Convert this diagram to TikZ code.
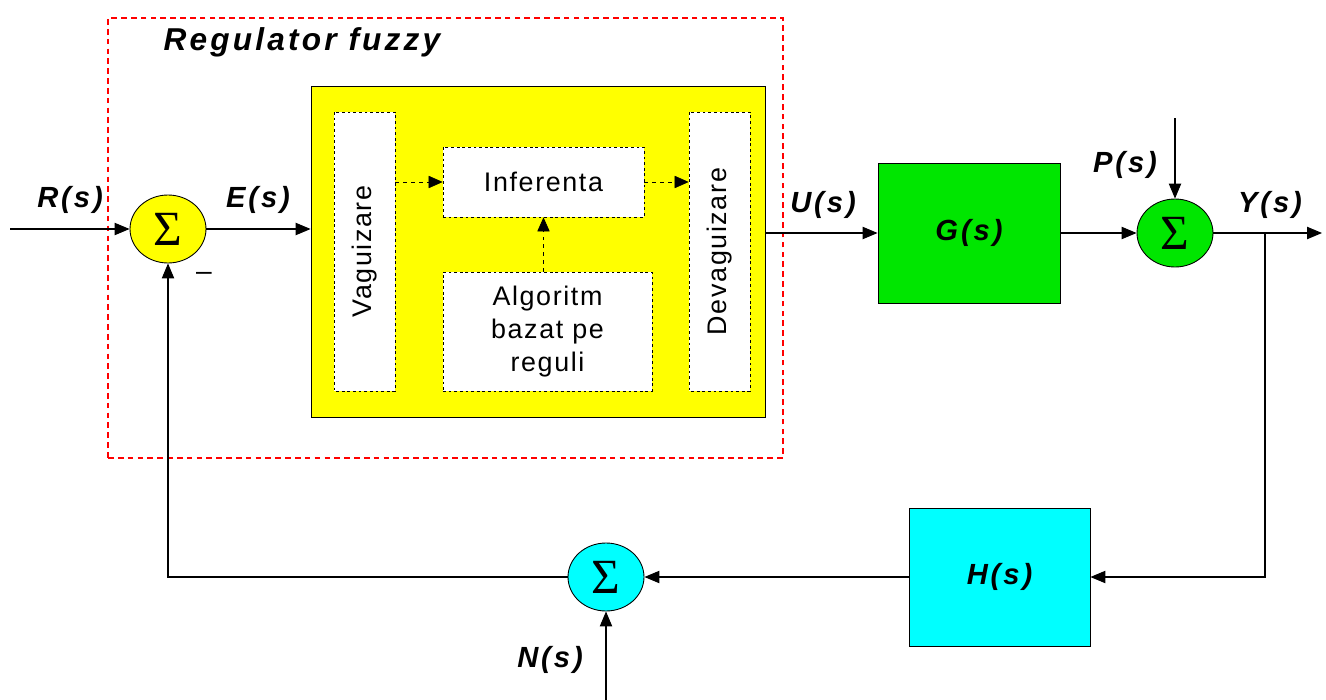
\documentclass[tikz,border=0pt]{standalone}
\usepackage{fontspec}
\setmainfont{Liberation Sans}
\newfontfamily\lblfont[LetterSpace=10]{Liberation Sans}
\newfontfamily\txtfont[LetterSpace=6]{Liberation Sans}
\newfontfamily\sigmafont{Liberation Serif}
\usepackage{xcolor}
\usetikzlibrary{arrows.meta,positioning,shapes.geometric,calc}
\definecolor{plantgreen}{RGB}{0,230,0}
\definecolor{fbcyan}{RGB}{0,255,255}
\definecolor{fzyellow}{RGB}{255,255,0}

\begin{document}
\begin{tikzpicture}[
    x=0.02cm, y=-0.02cm,
    blk/.style={draw, line width=0.5pt, fill=#1, inner sep=0pt},
    blk/.default=fzyellow,
    inner/.style={draw, dashed, dash pattern=on 1.6pt off 1.6pt, line width=0.4pt, fill=white, inner sep=0pt, align=center, font=\txtfont\fontsize{15.3}{19}\selectfont},
    sumnode/.style={draw, ellipse, line width=0.5pt, fill=#1, minimum width=1.52cm, minimum height=1.36cm, inner sep=0pt, font=\sigmafont\fontsize{28}{28}\selectfont},
    lbl/.style={font=\lblfont\bfseries\itshape\fontsize{16.6}{18}\selectfont},
    arr/.style={-{Triangle[length=8.5pt, width=7pt]}, line width=0.6pt},
    darr/.style={-{Triangle[length=8pt, width=7pt]}, dashed, dash pattern=on 2pt off 2.5pt, line width=0.4pt},
]
\useasboundingbox (0,0) rectangle (1326,700);
% Fuzzy controller
\node[draw=red, dashed, dash pattern=on 3.2pt off 2.4pt, line width=0.9pt, minimum width=13.5cm, minimum height=8.8cm] (reg) at (445.5,238) {};
\node[lbl, font=\lblfont\bfseries\itshape\fontsize{18}{20}\selectfont] (regtxt) at (302,42) {Regulator fuzzy};
\node[blk=fzyellow, minimum width=9.08cm, minimum height=6.62cm] (fz) at (538,251.5) {};
\node[inner, rotate=90, minimum width=5.58cm, minimum height=1.22cm] (vag) at (364.5,251.5) {Vaguizare};
\node[inner, rotate=90, minimum width=5.58cm, minimum height=1.22cm] (dev) at (719.5,251.5) {Devaguizare};
\node[inner, minimum width=4.02cm, minimum height=1.4cm] (inf) at (543.5,182) {Inferenta};
\node[inner, minimum width=4.18cm, minimum height=2.38cm] (alg) at (547.5,331.5) {Algoritm\\bazat pe\\reguli};
\draw[darr] (inf.west -| vag.south) -- (inf.west);
\draw[darr] (inf.east) -- (inf.east -| dev.north);
\draw[darr] (inf.south |- alg.north) -- (inf.south);
% Sums and blocks
\node[sumnode=fzyellow] (s1) at (168,229) {Σ};
\node[blk=plantgreen, minimum width=3.64cm, minimum height=2.8cm, lbl] (g) at (969,233) {G(s)};
\node[sumnode=plantgreen] (s2) at (1175,233) {Σ};
\node[blk=fbcyan, minimum width=3.62cm, minimum height=2.76cm, lbl] (h) at (999.5,577) {H(s)};
\node[sumnode=fbcyan] (s3) at (606,577) {Σ};
% Free ends
\coordinate (rin) at (10,229);
\coordinate (pin) at (1175,118);
\coordinate (yout) at (1322,233);
\coordinate (br) at (1265,233);
\coordinate (nin) at (606,700);
% Signal labels
\node[lbl] (rl) at (70,200) {R(s)};
\node[lbl] (el) at (258,200) {E(s)};
\node[lbl] (ul) at (823,205) {U(s)};
\node[lbl] (pl) at (1125,165) {P(s)};
\node[lbl] (yl) at (1270,205) {Y(s)};
\node[lbl] (nl) at (550,660) {N(s)};
\node[font=\fontsize{16}{16}\selectfont] (minus) at (204,276) {\textendash};
% Arrows
\draw[arr] (rin) -- (s1);
\draw[arr] (s1) -- (s1 -| fz.west);
\draw[arr] (fz.east |- g.west) -- (g.west);
\draw[arr] (g) -- (s2);
\draw[arr] (pin) -- (s2);
\draw[arr] (s2) -- (yout);
\draw[arr] (br) |- (h);
\draw[arr] (h) -- (s3);
\draw[arr] (nin) -- (s3);
\draw[arr] (s3) -| (s1);
\end{tikzpicture}
\end{document}
